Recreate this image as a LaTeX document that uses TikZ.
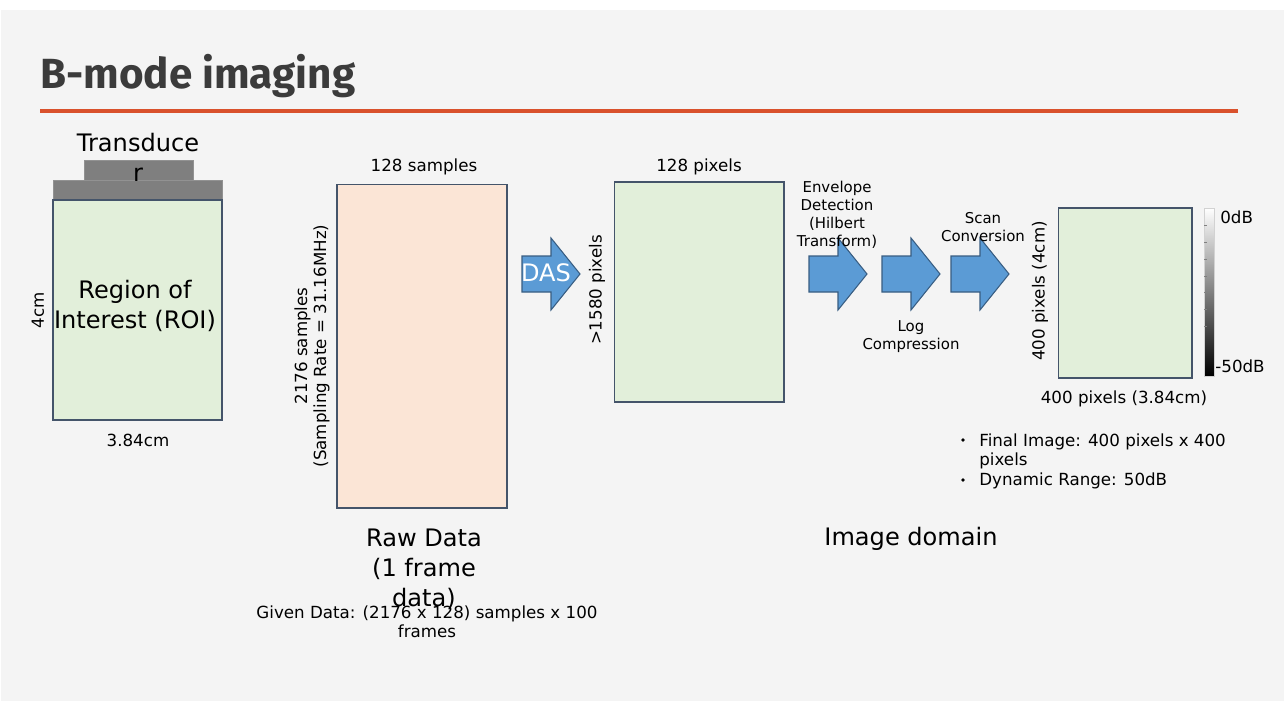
\documentclass[tikz,border=0pt]{standalone}
\usepackage{fontspec}
\setmainfont{DejaVu Sans}
\newfontfamily\titlefont{Fira Sans}
\usetikzlibrary{positioning}

\definecolor{slidebg}{HTML}{F4F4F4}
\definecolor{roigreen}{HTML}{E2EFDA}
\definecolor{rawpeach}{HTML}{FBE5D6}
\definecolor{edgeblue}{HTML}{44546A}
\definecolor{stepblue}{HTML}{5B9BD5}
\definecolor{stepedge}{HTML}{385D82}
\definecolor{titlegray}{HTML}{3B3B3B}
\definecolor{rulered}{HTML}{D9512C}
\definecolor{probegray}{HTML}{7F7F7F}

\begin{document}
\begin{tikzpicture}[
  x=0.02cm, y=-0.02cm,
  big/.style={font=\fontsize{13.7}{17}\selectfont, align=center, inner sep=0pt},
  small/.style={font=\fontsize{9.5}{10.8}\selectfont, align=center, inner sep=0pt},
  tiny/.style={font=\fontsize{8.5}{10.2}\selectfont, align=center, inner sep=0pt},
  frame/.style={draw=edgeblue, line width=0.6pt, inner sep=0pt},
  probe/.style={fill=probegray, draw=probegray!85!white, line width=0.4pt, inner sep=0pt},
  stepfill/.style={fill=stepblue, draw=stepedge, line width=0.6pt},
  blockarrow/.pic={
    \draw[stepfill] (0,-18) -- (29,-18) -- (29,-36) -- (58,0) -- (29,36) -- (29,18) -- (0,18) -- cycle;
  }
]

% slide
\fill[white] (0,0) rectangle (1287,710);
\fill[slidebg] (1,10) rectangle (1284,701);

\node[anchor=base west, inner sep=0pt, text=titlegray,
  font=\titlefont\bfseries\fontsize{24}{28}\selectfont] (title) at (40,88) {B-mode imaging};
\coordinate (ruleL) at (40,111);
\coordinate (ruleR) at (1238,111);
\draw[rulered, line width=1.8pt] (ruleL) -- (ruleR);

% transducer and ROI
\node[probe, minimum width=2.18cm, minimum height=0.4cm] (probetop) at (138.5,170) {};
\node[probe, minimum width=3.38cm, minimum height=0.4cm] (probebase) at (137.5,190) {};
\node[frame, fill=roigreen, minimum width=3.38cm, minimum height=4.4cm] (roi) at (137.5,310) {};
\node[big] (probelabel) at (138,157) {Transduce\\r};
\node[big] (roilabel) at (135,306) {Region of\\Interest (ROI)};
\node[small, rotate=90] (roih) at (38,310) {4cm};
\node[small] (roiw) at (138,440) {3.84cm};

% raw data
\node[frame, fill=rawpeach, minimum width=3.4cm, minimum height=6.48cm] (raw) at (422,346) {};
\node[small] (rawtop) at (424,167) {128 samples};
\node[small, rotate=90] (rawside) at (312,346) {2176 samples\\(Sampling Rate = 31.16MHz)};
\node[big] (rawlabel) at (424,569) {Raw Data\\(1 frame\\data)};
\node[small] (given) at (427,622) {Given Data: (2176 x 128) samples x 100\\frames};

% beamformed image
\pic at (522,274) {blockarrow};
\node[big, text=white] (das) at (546,273) {DAS};
\node[frame, fill=roigreen, minimum width=3.4cm, minimum height=4.4cm] (bf) at (699,292) {};
\node[small] (bftop) at (699,167) {128 pixels};
\node[small, rotate=90] (bfside) at (597,290) {>1580 pixels};

% processing steps
\pic at (809,274) {blockarrow};
\pic at (882,274) {blockarrow};
\pic at (951,274) {blockarrow};
\node[tiny] (envlabel) at (837,215) {Envelope\\Detection\\(Hilbert\\Transform)};
\node[tiny] (loglabel) at (911,337) {Log\\Compression};
\node[tiny] (scanlabel) at (983,227) {Scan\\Conversion};

% final image
\node[frame, fill=roigreen, minimum width=2.68cm, minimum height=3.4cm] (final) at (1125,293) {};
\node[small, rotate=90] (finalside) at (1040,291) {400 pixels (4cm)};
\node[small] (finalbot) at (1124,399) {400 pixels (3.84cm)};
\shade[top color=white, bottom color=black, draw=gray!35, line width=0.4pt] (1204,208) rectangle (1214,376);
\foreach \t in {225,242,259,276,292,309,326}
  \draw[gray, line width=0.3pt] (1204,\t) -- (1206.5,\t);
\node[small, anchor=west] (topdb) at (1220,217) {0dB};
\node[small, anchor=west] (botdb) at (1215,366) {-50dB};

\node[small, anchor=north west, align=left] (item1) at (979,433) {Final Image: 400 pixels x 400\\pixels};
\node[small, anchor=west] (item2) at (979,481) {Dynamic Range: 50dB};
\fill (963,440) circle (1.8);
\fill (963,480) circle (1.8);

\node[big] (domain) at (911,539) {Image domain};

\end{tikzpicture}
\end{document}
